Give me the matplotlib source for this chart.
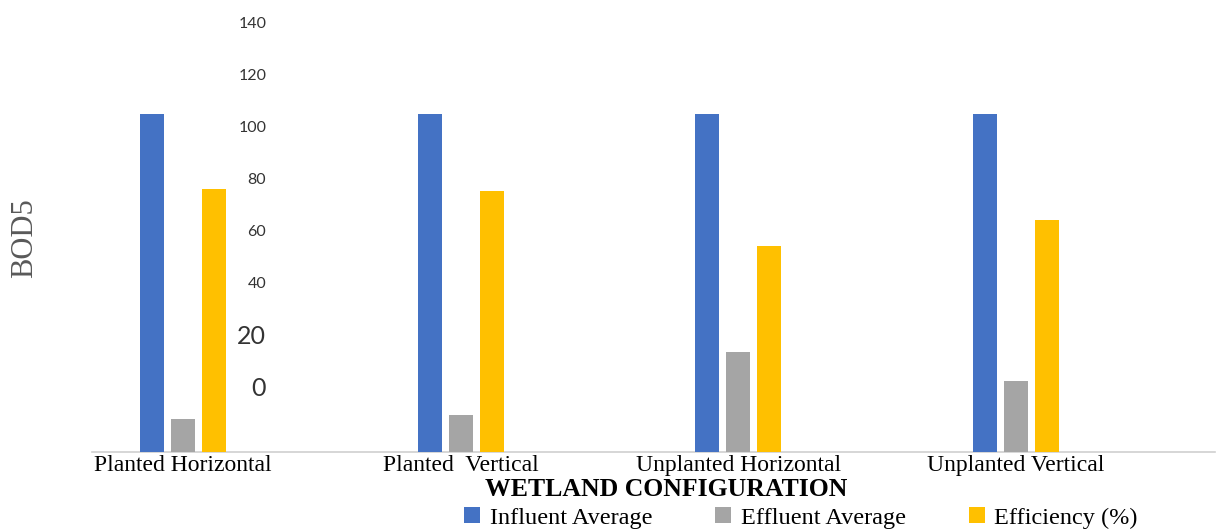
import matplotlib.pyplot as plt
import numpy as np

# data (baseline = 0)
configs = ["Planted Horizontal", "Planted  Vertical", "Unplanted Horizontal", "Unplanted Vertical"]
influent = [110, 110, 110, 110]
effluent = [10.7, 12, 32.6, 23]
efficiency = [85.6, 85, 67, 75.5]
yticks = [0, 20, 40, 60, 80, 100, 120, 140]

series = [("Influent Average", influent, "#4472C4"),
          ("Effluent Average", effluent, "#A5A5A5"),
          ("Efficiency (%)", efficiency, "#FFC000")]

serif = "Liberation Serif"

fig = plt.figure(figsize=(12.22, 5.32), dpi=100)
W, H = 1222, 532
# axes: x from 44 to 1155 px, y from 452 (0) up to 22 (140)
ax = fig.add_axes([44 / W, (H - 452) / H, 1111 / W, 430 / H])

x = np.arange(len(configs))
bw = 0.0863
step = 0.1115
for k, (name, vals, col) in enumerate(series):
    ax.bar(x + (k - 1) * step, vals, width=bw, color=col, label=name, zorder=2)

ax.set_xlim(-0.5, 3.5)
ax.set_ylim(0, 140)
for s in ["top", "right", "bottom", "left"]:
    ax.spines[s].set_visible(False)
ax.set_yticks([])

# the value labels in the source are squeezed upward, they sit on their own
# scale in the gap between the first two groups
lab_ax = ax.twinx()
lab_ax.set_ylim(-25, 140)
lab_ax.yaxis.set_ticks_position("left")
lab_ax.spines["left"].set_position(("data", 0.32))
for s in ["top", "right", "bottom", "left"]:
    lab_ax.spines[s].set_visible(False)
lab_ax.set_yticks(yticks)
lab_ax.tick_params(axis="y", length=0, pad=4, labelsize=11.5, labelcolor="#333333",
                   left=True, labelleft=True, right=False, labelright=False)
for lab in lab_ax.get_yticklabels():
    lab.set_fontfamily("Lato")
    if lab.get_text() in ("0", "20"):
        lab.set_fontsize(18)

# baseline
ax.axhline(0, xmin=0.043, xmax=1.054, color="#D0D0D0", lw=1.2, clip_on=False, zorder=1)

ax.set_xticks(x)
ax.set_xticklabels(configs, fontfamily=serif, fontsize=17)
ax.tick_params(axis="x", length=0, pad=2)

fig.text(25 / W, 1 - 238 / H, "BOD5", rotation=90, ha="center", va="center",
         fontfamily=serif, fontsize=22, color="#595959")
fig.text(666 / W, 1 - 489 / H, "WETLAND CONFIGURATION", ha="center", va="center",
         fontfamily=serif, fontsize=18.5, fontweight="bold")

fig.legend(*ax.get_legend_handles_labels(), loc="center",
           bbox_to_anchor=(801 / W, 1 - 518 / H), ncol=3, frameon=False,
           prop={"family": serif, "size": 17.5}, handlelength=0.65, handleheight=0.65,
           handletextpad=0.4, columnspacing=2.6, borderpad=0)

fig.savefig("out.png", dpi=100)
